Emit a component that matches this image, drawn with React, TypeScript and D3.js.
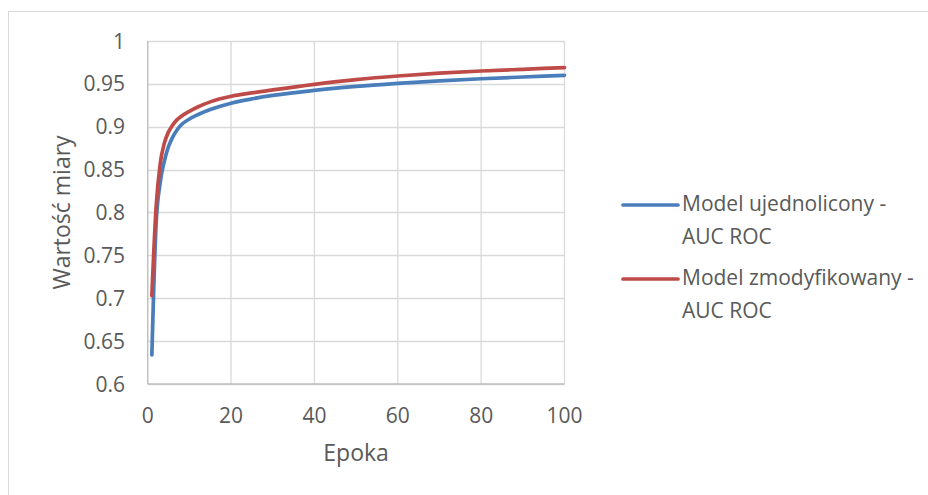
import React from "react";
import * as d3 from "d3";

const epochs = [1, 2, 3, 4, 5, 6, 7, 8, 10, 12, 15, 20, 25, 30, 40, 50, 60, 70, 80, 90, 100];
const unifiedAuc = [0.634, 0.785, 0.835, 0.86, 0.877, 0.888, 0.896, 0.902, 0.909, 0.914, 0.92, 0.9275, 0.9325, 0.9365, 0.9425, 0.947, 0.9505, 0.9535, 0.956, 0.958, 0.96];
const modifiedAuc = [0.703, 0.805, 0.857, 0.881, 0.894, 0.902, 0.908, 0.912, 0.918, 0.923, 0.929, 0.9355, 0.9395, 0.943, 0.9495, 0.955, 0.9592, 0.9625, 0.965, 0.967, 0.969];
const yTicks = [0.6, 0.65, 0.7, 0.75, 0.8, 0.85, 0.9, 0.95, 1];
const xTicks = [0, 20, 40, 60, 80, 100];
const seriesNames = [["Model ujednolicony -", "AUC ROC"], ["Model zmodyfikowany -", "AUC ROC"]];
const seriesColors = ["#4A7EBB", "#BE4B48"];

const W = 928;
const H = 495;
const font = "'Open Sans', sans-serif";
const textColor = "#595959";

export default function App() {
  const x = d3.scaleLinear().domain([0, 100]).range([147.7, 564.5]);
  const y = d3.scaleLinear().domain([0.6, 1]).range([384, 41]);
  const series = [unifiedAuc, modifiedAuc];
  const line = d3
    .line<[number, number]>()
    .x((d) => x(d[0]))
    .y((d) => y(d[1]))
    .curve(d3.curveMonotoneX);

  return (
    <svg width={W} height={H} style={{ position: "absolute", left: 0, top: 0, background: "#fff" }}>
      <rect x={8.5} y={11.5} width={W + 10} height={H + 10} fill="#fff" stroke="#d9d9d9" strokeWidth={1} />
      {yTicks.map((t) => (
        <line key={"gy" + t} x1={x(0)} x2={x(100)} y1={Math.round(y(t)) + 0.5} y2={Math.round(y(t)) + 0.5} stroke="#d9d9d9" strokeWidth={1.3} />
      ))}
      {xTicks.map((t) => (
        <line key={"gx" + t} x1={x(t)} x2={x(t)} y1={y(1)} y2={y(0.6)} stroke="#d9d9d9" strokeWidth={1.3} />
      ))}
      <line x1={x(0)} x2={x(0)} y1={y(1)} y2={y(0.6)} stroke="#bfbfbf" strokeWidth={1.3} />
      <line x1={x(0)} x2={x(100)} y1={y(0.6)} y2={y(0.6)} stroke="#bfbfbf" strokeWidth={1.3} />
      {yTicks.map((t) => (
        <text key={"ty" + t} x={125} y={y(t)} dy="0.36em" textAnchor="end" fontFamily={font} fontSize={21} fill={textColor}>
          {d3.format("~g")(t)}
        </text>
      ))}
      {xTicks.map((t) => (
        <text key={"tx" + t} x={x(t)} y={423} textAnchor="middle" fontFamily={font} fontSize={21} fill={textColor}>
          {t}
        </text>
      ))}
      <text x={(x(0) + x(100)) / 2} y={461} textAnchor="middle" fontFamily={font} fontSize={23} fill={textColor}>
        Epoka
      </text>
      <text transform={`translate(70,212.5) rotate(-90)`} textAnchor="middle" fontFamily={font} fontSize={23} fill={textColor}>
        Wartość miary
      </text>
      {series.map((vals, i) => (
        <path
          key={"s" + i}
          d={line(epochs.map((e, j) => [e, vals[j]] as [number, number])) || ""}
          fill="none"
          stroke={seriesColors[i]}
          strokeWidth={3.7}
          strokeLinejoin="round"
          strokeLinecap="round"
        />
      ))}
      {seriesNames.map((lines, i) => {
        const ly = 205 + i * 74;
        return (
          <g key={"lg" + i}>
            <line x1={623} x2={678} y1={ly} y2={ly} stroke={seriesColors[i]} strokeWidth={3.7} strokeLinecap="round" />
            {lines.map((s, k) => (
              <text key={k} x={682} y={ly + 6 + k * 33} fontFamily={font} fontSize={21} fill={textColor}>
                {s}
              </text>
            ))}
          </g>
        );
      })}
    </svg>
  );
}
